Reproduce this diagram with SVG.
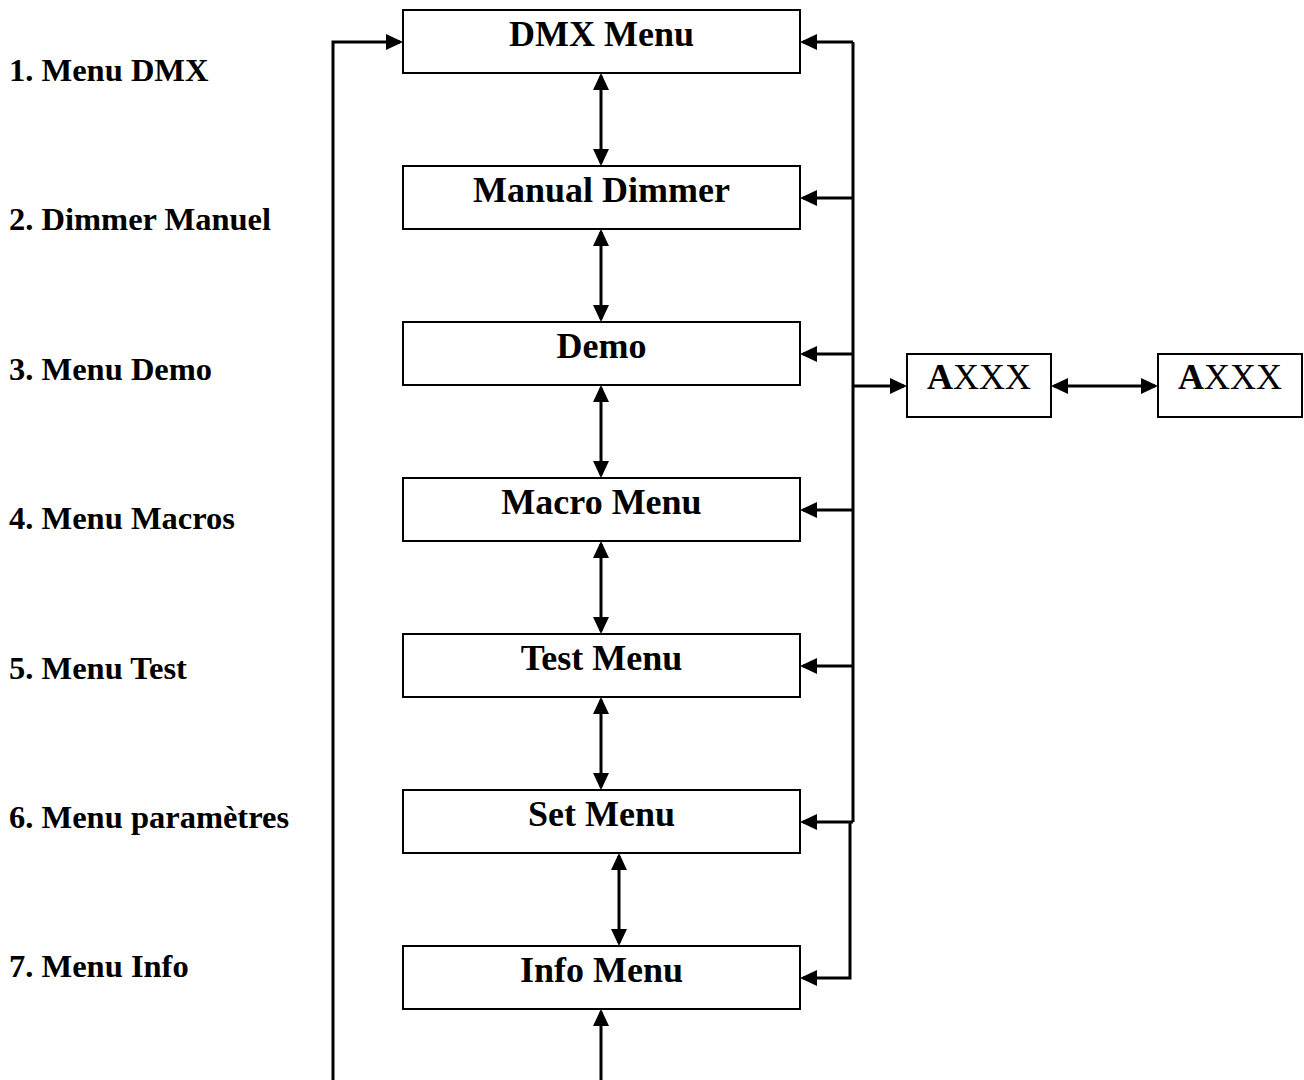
<svg xmlns="http://www.w3.org/2000/svg" width="1304" height="1080" viewBox="0 0 1304 1080">
<style>
  .box { fill: #ffffff; stroke: #000000; stroke-width: 2; }
  .lbl { font-family: "Liberation Serif", "Times New Roman", serif; font-weight: bold; font-size: 32.5px; fill: #000; }
  .bt { font-family: "Liberation Serif", "Times New Roman", serif; font-weight: bold; font-size: 36px; fill: #000; text-anchor: middle; }
  .bt2 { font-family: "Liberation Serif", "Times New Roman", serif; font-weight: normal; font-size: 36px; fill: #000; text-anchor: middle; }
  .ln { fill: none; stroke: #000; stroke-width: 3; }
  .one { marker-end: url(#ah); }
  .two { marker-start: url(#ah); marker-end: url(#ah); }
</style>
<defs>
  <marker id="ah" markerUnits="userSpaceOnUse" markerWidth="18" markerHeight="16" refX="14" refY="8" orient="auto-start-reverse" viewBox="0 0 18 16">
    <path d="M0,0 L17,8 L0,16 Z" fill="#000"/>
  </marker>
</defs>
<rect width="1304" height="1080" fill="#ffffff"/>

<g id="labels">
  <text class="lbl" x="9" y="81">1. Menu DMX</text>
  <text class="lbl" x="9" y="230">2. Dimmer Manuel</text>
  <text class="lbl" x="9" y="380">3. Menu Demo</text>
  <text class="lbl" x="9" y="529">4. Menu Macros</text>
  <text class="lbl" x="9" y="679">5. Menu Test</text>
  <text class="lbl" x="9" y="828">6. Menu paramètres</text>
  <text class="lbl" x="9" y="977">7. Menu Info</text>
</g>

<g id="connectors">
  <path class="ln one" d="M333,1080 V42 H400"/>
  <path class="ln two" d="M601,76 V163"/>
  <path class="ln two" d="M601,232 V319"/>
  <path class="ln two" d="M601,388 V475"/>
  <path class="ln two" d="M601,544 V631"/>
  <path class="ln two" d="M601,700 V787"/>
  <path class="ln two" d="M619,856 V943"/>
  <path class="ln one" d="M601,1080 V1012"/>
  <path class="ln" d="M853,42 V822"/>
  <path class="ln one" d="M853,42 H803"/>
  <path class="ln one" d="M853,198 H803"/>
  <path class="ln one" d="M853,354 H803"/>
  <path class="ln one" d="M853,510 H803"/>
  <path class="ln one" d="M853,666 H803"/>
  <path class="ln one" d="M853,822 H803"/>
  <path class="ln one" d="M850,822 V978 H803"/>
  <path class="ln one" d="M853,386 H904"/>
  <path class="ln two" d="M1054,386 H1155"/>
</g>

<g id="node-dmx">
  <rect class="box" x="403" y="10" width="397" height="63"/>
  <text class="bt" x="601.5" y="46">DMX Menu</text>
</g>
<g id="node-manual">
  <rect class="box" x="403" y="166" width="397" height="63"/>
  <text class="bt" x="601.5" y="202">Manual Dimmer</text>
</g>
<g id="node-demo">
  <rect class="box" x="403" y="322" width="397" height="63"/>
  <text class="bt" x="601.5" y="358">Demo</text>
</g>
<g id="node-macro">
  <rect class="box" x="403" y="478" width="397" height="63"/>
  <text class="bt" x="601.5" y="514">Macro Menu</text>
</g>
<g id="node-test">
  <rect class="box" x="403" y="634" width="397" height="63"/>
  <text class="bt" x="601.5" y="670">Test Menu</text>
</g>
<g id="node-set">
  <rect class="box" x="403" y="790" width="397" height="63"/>
  <text class="bt" x="601.5" y="826">Set Menu</text>
</g>
<g id="node-info">
  <rect class="box" x="403" y="946" width="397" height="63"/>
  <text class="bt" x="601.5" y="982">Info Menu</text>
</g>
<g id="node-axxx1">
  <rect class="box" x="907" y="354" width="144" height="63"/>
  <text class="bt2" x="979" y="389"><tspan font-weight="bold">A</tspan>XXX</text>
</g>
<g id="node-axxx2">
  <rect class="box" x="1158" y="354" width="144" height="63"/>
  <text class="bt2" x="1230" y="389"><tspan font-weight="bold">A</tspan>XXX</text>
</g>
</svg>
